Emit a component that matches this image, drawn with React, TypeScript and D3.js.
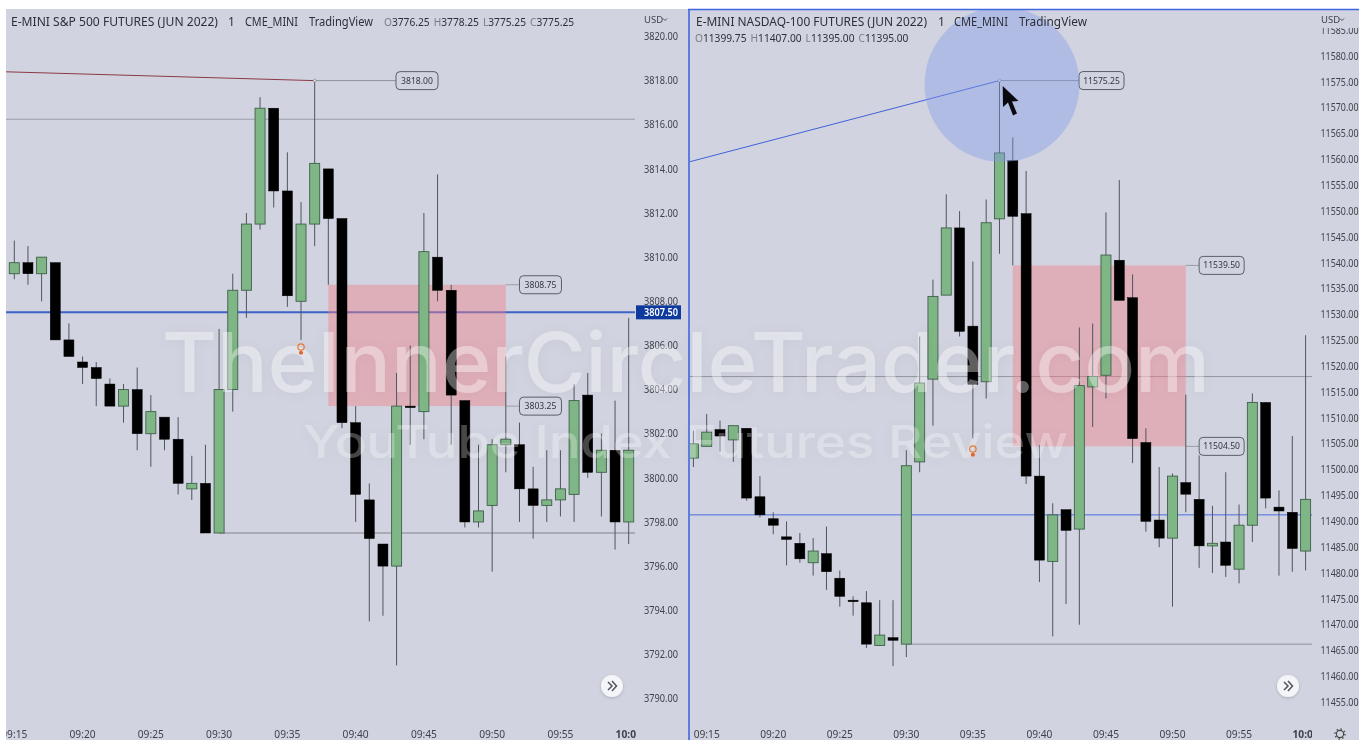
import * as d3 from "d3"

const BG = "#d1d4e0"
const UP = "#7fb685"
const UP_EDGE = "#3f5f4a"
const WICK = "#50545c"
const TXT = "#3e424c"

// E-mini S&P, one candle per minute, first = 09:15
const esOpen = [3809.25,3809.75,3809.25,3809.75,3806.25,3805.25,3805,3804.25,3803.25,3804,3802,3802.75,3801.75,3799.5,3799.75,3797.5,3804,3808.5,3811.5,3816.75,3813,3808,3811.5,3814,3811.75,3802.5,3799,3797,3796,3803.25,3803,3810,3808.5,3803.5,3798,3798.75,3801.5,3801.5,3799.5,3798.75,3799,3799.25,3803.75,3800.25,3801.25,3798]
const esHigh = [3810.75,3810.5,3810,3809.75,3807,3805.5,3805.25,3804.5,3804.25,3805,3803.75,3802.75,3802.75,3801,3801.5,3806.75,3809.25,3812,3817.25,3816.75,3814.75,3812.5,3818,3814,3811.75,3803.25,3799.75,3797,3804.75,3806,3812,3813.75,3808.75,3803.5,3801.5,3801.75,3805.5,3802.5,3800.5,3801.25,3801.25,3804.25,3804.75,3802,3803.5,3807.25]
const esLow = [3809,3808.75,3808,3806.25,3805.5,3804.25,3803.25,3803.25,3802.5,3801.25,3800.5,3801.25,3799.25,3799,3797.5,3797.5,3803,3807.25,3811.25,3812.25,3807.75,3806.25,3810.5,3808.75,3802.25,3798,3793.5,3793.75,3791.5,3801.5,3801.75,3808,3801.5,3797.75,3797.75,3795.75,3800.25,3798,3797.25,3798,3798.25,3798,3800,3798.25,3796.75,3797]
const esClose = [3809.75,3809.25,3810,3806.25,3805.5,3805,3804.5,3803.25,3804,3802,3803,3801.75,3799.75,3799.75,3797.5,3804,3808.5,3811.5,3816.75,3813,3808.25,3811.5,3814.25,3811.75,3802.5,3799.25,3797.25,3796,3803.25,3803.25,3810.25,3808.5,3803.75,3798,3798.5,3801.5,3801.75,3799.5,3798.75,3799,3799.5,3803.5,3800.25,3801.25,3798,3801.25]
const esTicks = [3820,3818,3816,3814,3812,3810,3808,3806,3804,3802,3800,3798,3796,3794,3792,3790]

// E-mini Nasdaq, first = 09:14
const nqOpen = [11502.25,11504.5,11507.75,11505.75,11508,11494.75,11490.5,11487,11485.75,11482,11483.75,11479,11474.75,11474.25,11466,11467.5,11466.25,11501.5,11517.5,11533.75,11546.75,11527.75,11517,11548.5,11559.75,11549.5,11498.75,11482.25,11492.25,11488.5,11516,11518.25,11540.5,11533.25,11505.25,11490.25,11486.75,11497.5,11494.25,11485.25,11486,11480.75,11489.25,11513,11492.75,11491.75,11484.25]
const nqHigh = [11507.5,11510.75,11509.5,11508.5,11508,11498.75,11491.75,11490,11487.75,11486.75,11489,11480.5,11475.5,11476.5,11474.75,11474.75,11503.75,11525.75,11536.75,11553.25,11550,11540.25,11552.25,11575.25,11564.25,11557.75,11504.75,11493.5,11492.25,11527.5,11528.25,11549.75,11556,11537.75,11508,11500.5,11499.25,11514.5,11502.75,11493,11499.5,11493.25,11514.75,11513,11496,11506.5,11526]
const nqLow = [11500.5,11504.5,11503.5,11501.5,11494,11490.75,11487.5,11481.5,11482,11479.5,11476.75,11473.5,11471.75,11465.5,11466,11462,11463.75,11499.5,11508.5,11533.75,11525.75,11506,11513.75,11541.75,11539.5,11497.25,11478.25,11467.75,11474,11470,11508.25,11513.75,11532.75,11501.25,11488,11485,11473.5,11491.75,11481,11480,11479.25,11478,11486,11492.5,11479.5,11480.25,11480.5]
const nqClose = [11505,11507.25,11506.5,11508.5,11494.5,11491.25,11489.25,11486.5,11482.75,11484.25,11480.25,11475.5,11474.5,11466.25,11468,11467,11500.75,11516.75,11533.5,11546.75,11526.75,11516.5,11547.75,11561.25,11549,11498.75,11482.5,11491.25,11488.25,11516.25,11518,11541.5,11532.75,11506,11490,11486.75,11498.75,11495.25,11485.25,11485.75,11481.5,11489.25,11513,11494.5,11492,11484.75,11494.25]
const nqTicks = [11585,11580,11575,11570,11565,11560,11555,11550,11545,11540,11535,11530,11525,11520,11515,11510,11505,11500,11495,11490,11485,11480,11475,11470,11465,11460,11455]

const timeLabels = ["09:15","09:20","09:25","09:30","09:35","09:40","09:45","09:50","09:55","10:00"]

const FONT = "'Noto Sans', sans-serif"

function Candles({ x, y, first, open, high, low, close }: any) {
  return <g>
    {open.map((o: number, i: number) => {
      const cx = x(first + i)
      const up = close[i] > o
      const top = y(Math.max(o, close[i])), bot = y(Math.min(o, close[i]))
      return <g key={i}>
        <line x1={cx} x2={cx} y1={y(high[i])} y2={y(low[i])} stroke={WICK} strokeWidth={1} />
        <rect x={cx - 5} y={top} width={10} height={Math.max(bot - top, 1.5)} fill={up ? UP : "#000"} stroke={up ? UP_EDGE : "#000"} strokeWidth={up ? 0.9 : 0.5} />
      </g>
    })}
  </g>
}

function PriceTag({ x, y, w, text }: any) {
  return <g>
    <rect x={x} y={y - 9} width={w} height={18} rx={4} fill={BG} stroke="#5a5e68" strokeWidth={1} />
    <text x={x + w / 2} y={y + 3} textAnchor="middle" fontSize={8.6} fontFamily={FONT} fill="#33363f">{text}</text>
  </g>
}

function Bulb({ cx, cy }: any) {
  return <g>
    <circle cx={cx} cy={cy - 2} r={3.2} fill="none" stroke="#e8762f" strokeWidth={1.2} />
    <rect x={cx - 2} y={cy + 2} width={4} height={3.5} rx={1.5} fill="#e0652a" />
  </g>
}

function ScrollBtn({ cx, cy }: any) {
  return <g>
    <circle cx={cx} cy={cy} r={11} fill="#f4f5f8" filter="url(#btnShadow)" />
    <path d={`M${cx - 4} ${cy - 4} L${cx} ${cy} L${cx - 4} ${cy + 4} M${cx} ${cy - 5} L${cx + 4.5} ${cy} L${cx} ${cy + 5}`} fill="none" stroke="#50545c" strokeWidth={1.5} />
  </g>
}

function PriceAxis({ y, ticks, tx, w, clip }: any) {
  return <g clipPath={`url(#${clip})`}>
    {ticks.map((t: number) => <text key={t} x={tx} y={y(t) + 3.7} fontSize={10.2} fontFamily={FONT} fill={TXT} textLength={w} lengthAdjust="spacingAndGlyphs">{t.toFixed(2)}</text>)}
  </g>
}

function TimeAxis({ x, clip }: any) {
  return <g clipPath={`url(#${clip})`}>
    {timeLabels.map((t, i) => <text key={t} x={x(i * 5)} y={737.5} textAnchor="middle" fontSize={10.2} fontFamily={FONT} fontWeight={t === "10:00" ? 700 : 400} fill={TXT}>{t}</text>)}
  </g>
}

function Ohlc({ x, y, values }: any) {
  const labels = ["O", "H", "L", "C"]
  return <text x={x} y={y} fontSize={10.2} fontFamily={FONT} fill="#2c3038">
    {values.map((v: string, i: number) => <tspan key={i} dx={i ? 4 : 0}><tspan fill="#7a7e88">{labels[i]}</tspan>{v}</tspan>)}
  </text>
}

export default function App() {
  const xEs = d3.scaleLinear().domain([0, 45]).range([14.3, 628.7])
  const yEs = d3.scaleLinear().domain([3820, 3790]).range([36.5, 698.5])
  const xNq = d3.scaleLinear().domain([0, 45]).range([706.7, 1305.6])
  const yNq = d3.scaleLinear().domain([11580, 11455]).range([56, 702.3])

  return (
    <svg width={1359} height={740} style={{ display: "block", background: "#fff" }}>
      <style>{"body{margin:0;overflow:hidden}"}</style>
      <defs>
        <clipPath id="esPlot"><rect x={6} y={9} width={629} height={731} /></clipPath>
        <clipPath id="nqPlot"><rect x={690} y={10} width={622} height={730} /></clipPath>
        <clipPath id="esAxis"><rect x={636} y={28} width={44} height={700} /></clipPath>
        <clipPath id="nqAxis"><rect x={1312} y={28} width={47} height={700} /></clipPath>
        <clipPath id="esTime"><rect x={6} y={722} width={630} height={18} /></clipPath>
        <clipPath id="nqTime"><rect x={690} y={722} width={622} height={18} /></clipPath>
        <filter id="markShadow" filterUnits="userSpaceOnUse" x={100} y={280} width={1180} height={220}>
          <feDropShadow dx={0} dy={1} stdDeviation={6} floodColor="#000" floodOpacity={0.14} />
        </filter>
        <filter id="btnShadow" x="-40%" y="-40%" width="180%" height="180%">
          <feDropShadow dx={0} dy={1} stdDeviation={1.5} floodColor="#000" floodOpacity={0.2} />
        </filter>
      </defs>

      <g style={{ filter: "blur(0.35px)" }}>
      <rect x={6} y={9} width={1353} height={731} fill={BG} />

      {/* left panel */}
      <g clipPath="url(#esPlot)">
        <line x1={6} x2={635} y1={yEs(3816.25)} y2={yEs(3816.25)} stroke="#9a9ca6" strokeWidth={1.2} />
        <line x1={6} x2={635} y1={yEs(3807.5)} y2={yEs(3807.5)} stroke="#3f62c8" strokeWidth={2} />
        <line x1={xEs(15)} x2={635} y1={yEs(3797.5)} y2={yEs(3797.5)} stroke="#9a9ca6" strokeWidth={1.4} />
        <rect x={xEs(23)} y={yEs(3808.75)} width={xEs(36) - xEs(23)} height={yEs(3803.25) - yEs(3808.75)} fill="#f47c84" fillOpacity={0.42} />
        <line x1={xEs(-0.6)} x2={xEs(22)} y1={yEs(3818.4)} y2={yEs(3818)} stroke="#8a3a44" strokeWidth={1} />
        <line x1={xEs(22)} x2={396} y1={yEs(3818)} y2={yEs(3818)} stroke="#8e9099" strokeWidth={1} />
        <line x1={xEs(36)} x2={xEs(37)} y1={yEs(3808.75)} y2={yEs(3808.75)} stroke="#9a9ca6" strokeWidth={1} />
        <line x1={xEs(36)} x2={xEs(37)} y1={yEs(3803.25)} y2={yEs(3803.25)} stroke="#9a9ca6" strokeWidth={1} />
        <Candles x={xEs} y={yEs} first={0} open={esOpen} high={esHigh} low={esLow} close={esClose} />
        <circle cx={xEs(22)} cy={yEs(3818)} r={1.4} fill="#e8e9ef" stroke="#777" strokeWidth={0.6} />
        <PriceTag x={396} y={yEs(3818)} w={42} text="3818.00" />
        <PriceTag x={xEs(37)} y={yEs(3808.75)} w={42} text="3808.75" />
        <PriceTag x={xEs(37)} y={yEs(3803.25)} w={42} text="3803.25" />
      </g>
      <ScrollBtn cx={612} cy={686} />
      <PriceAxis y={yEs} ticks={esTicks} tx={644} w={34} clip="esAxis" />
      <rect x={636} y={yEs(3807.5) - 7} width={45} height={14} fill="#0d3a9c" />
      <text x={644} y={yEs(3807.5) + 3.7} fontSize={10.2} fontWeight={600} fontFamily={FONT} fill="#fff" textLength={34} lengthAdjust="spacingAndGlyphs">3807.50</text>
      <text x={644} y={22.5} fontSize={9.5} fontFamily={FONT} fill={TXT}>USD</text>
      <path d="M663 18.5 L665 20.5 L667 18.5" fill="none" stroke={TXT} strokeWidth={0.9} />
      <TimeAxis x={xEs} clip="esTime" />
      <text x={11} y={26} fontSize={12} fontFamily={FONT} fill="#2c3038" textLength={207} lengthAdjust="spacingAndGlyphs">E-MINI S&amp;P 500 FUTURES (JUN 2022)</text>
      <text x={228} y={26} fontSize={12} fontFamily={FONT} fill="#2c3038">1</text>
      <text x={245} y={26} fontSize={12} fontFamily={FONT} fill="#2c3038" textLength={53} lengthAdjust="spacingAndGlyphs">CME_MINI</text>
      <text x={309} y={26} fontSize={12} fontFamily={FONT} fill="#2c3038" textLength={64} lengthAdjust="spacingAndGlyphs">TradingView</text>
      <Ohlc x={384} y={26} values={["3776.25", "3778.25", "3775.25", "3775.25"]} />

      {/* right panel */}
      <g clipPath="url(#nqPlot)">
        <line x1={689} x2={1312} y1={yNq(11518)} y2={yNq(11518)} stroke="#85878f" strokeWidth={0.8} />
        <line x1={689} x2={1312} y1={yNq(11491.25)} y2={yNq(11491.25)} stroke="#4a6be0" strokeWidth={1} />
        <line x1={xNq(15)} x2={1312} y1={yNq(11466.25)} y2={yNq(11466.25)} stroke="#8e9099" strokeWidth={1} />
        <rect x={xNq(23)} y={yNq(11539.5)} width={xNq(36) - xNq(23)} height={yNq(11504.5) - yNq(11539.5)} fill="#f47c84" fillOpacity={0.42} />
        <line x1={xNq(36)} x2={xNq(37)} y1={yNq(11539.5)} y2={yNq(11539.5)} stroke="#9a9ca6" strokeWidth={1} />
        <line x1={xNq(36)} x2={xNq(37)} y1={yNq(11504.5)} y2={yNq(11504.5)} stroke="#9a9ca6" strokeWidth={1} />
        <line x1={xNq(22)} x2={1079} y1={yNq(11575.25)} y2={yNq(11575.25)} stroke="#8e9099" strokeWidth={1} />
        <Candles x={xNq} y={yNq} first={-1} open={nqOpen} high={nqHigh} low={nqLow} close={nqClose} />
        <line x1={xNq(-1.35)} x2={xNq(22)} y1={yNq(11559.5)} y2={yNq(11575.25)} stroke="#3f62d8" strokeWidth={1} />
        <circle cx={xNq(22)} cy={yNq(11575.25)} r={1.4} fill="#e8e9ef" stroke="#777" strokeWidth={0.6} />
        <PriceTag x={1079} y={yNq(11575.25)} w={45} text="11575.25" />
        <PriceTag x={xNq(37)} y={yNq(11539.5)} w={45} text="11539.50" />
        <PriceTag x={xNq(37)} y={yNq(11504.5)} w={45} text="11504.50" />
        <circle cx={1002} cy={84.5} r={77.5} fill="#8198ec" fillOpacity={0.4} />
        <path d="M1002.7 86 L1003 107 L1008 102.5 L1013 115.5 L1017 113.5 L1012 101.5 L1018.5 101 Z" fill="#0a0a0e" />
      </g>
      <line x1={689} x2={689} y1={9} y2={740} stroke="#3f66e0" strokeWidth={1.6} />
      <line x1={688} x2={1359} y1={9.5} y2={9.5} stroke="#3f66e0" strokeWidth={1.4} />
      <ScrollBtn cx={1288} cy={686} />
      <PriceAxis y={yNq} ticks={nqTicks} tx={1320.5} w={38} clip="nqAxis" />
      <text x={1321} y={22.5} fontSize={9.5} fontFamily={FONT} fill={TXT}>USD</text>
      <path d="M1340 18.5 L1342 20.5 L1344 18.5" fill="none" stroke={TXT} strokeWidth={0.9} />
      <TimeAxis x={xNq} clip="nqTime" />
      <circle cx={1340} cy={734} r={3.6} fill="none" stroke="#444" strokeWidth={1.1} />
      <circle cx={1340} cy={734} r={5} fill="none" stroke="#444" strokeWidth={1.4} strokeDasharray="1.4 2.5" />
      <text x={696} y={26} fontSize={12} fontFamily={FONT} fill="#2c3038" textLength={231} lengthAdjust="spacingAndGlyphs">E-MINI NASDAQ-100 FUTURES (JUN 2022)</text>
      <text x={938} y={26} fontSize={12} fontFamily={FONT} fill="#2c3038">1</text>
      <text x={954} y={26} fontSize={12} fontFamily={FONT} fill="#2c3038" textLength={54} lengthAdjust="spacingAndGlyphs">CME_MINI</text>
      <text x={1019} y={26} fontSize={12} fontFamily={FONT} fill="#2c3038" textLength={68} lengthAdjust="spacingAndGlyphs">TradingView</text>
      <Ohlc x={695} y={42} values={["11399.75", "11407.00", "11395.00", "11395.00"]} />

      {/* watermark */}
      <g filter="url(#markShadow)" fontFamily="Inter, sans-serif" fontWeight={500} fill="#fff">
        <text x={162} y={392} fontSize={83} fillOpacity={0.36} textLength={1048} lengthAdjust="spacingAndGlyphs">TheInnerCircleTrader.com</text>
        <text x={303} y={458} fontSize={45} fillOpacity={0.27} textLength={765} lengthAdjust="spacingAndGlyphs">YouTube Index Futures Review</text>
      </g>
      <Bulb cx={xEs(21)} cy={349} />
      <Bulb cx={xNq(20)} cy={451} />
      </g>
    </svg>
  )
}
